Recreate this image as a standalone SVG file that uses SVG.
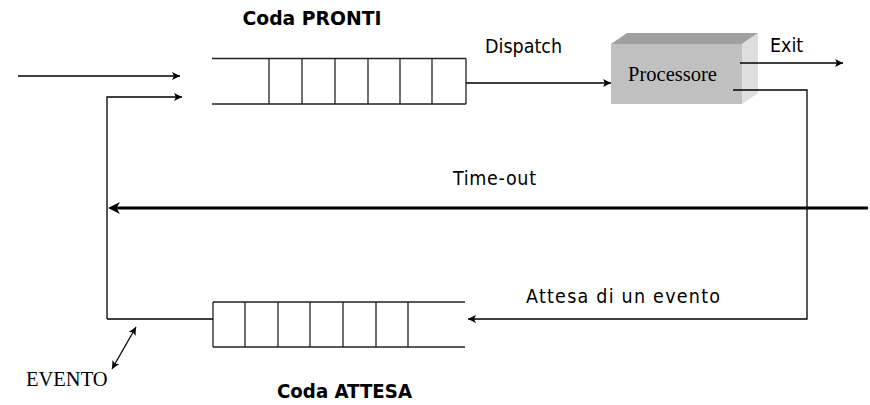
<svg xmlns="http://www.w3.org/2000/svg" width="870" height="405" viewBox="0 0 870 405">
  <defs>
    <marker id="arrow" viewBox="0 0 10 10" refX="10" refY="5" markerWidth="8" markerHeight="8" markerUnits="userSpaceOnUse" orient="auto-start-reverse">
      <path d="M0,0 L10,5 L0,10 L2.5,5 z" fill="#000"/>
    </marker>
    <marker id="arrowBig" viewBox="0 0 10 10" refX="6.7" refY="5" markerWidth="12" markerHeight="12" markerUnits="userSpaceOnUse" orient="auto-start-reverse">
      <path d="M0,0 L10,5 L0,10 L3,5 z" fill="#000"/>
    </marker>
    <style>
      .ln { fill: none; stroke: #000; stroke-width: 1.3; }
      .q { fill: none; stroke: #222; stroke-width: 1.3; }
      .sans { font-family: "DejaVu Sans Condensed", "DejaVu Sans", sans-serif; font-size: 19.5px; fill: #000; }
      .bold { font-family: "DejaVu Sans Condensed", "DejaVu Sans", sans-serif; font-size: 19.5px; font-weight: bold; fill: #000; }
      .serif { font-family: "Liberation Serif", "Times New Roman", serif; font-size: 20.5px; fill: #000; }
    </style>
  </defs>

  <!-- ready queue -->
  <g id="coda-pronti">
    <path class="q" d="M212,58.5 H466 M212,104 H466 M269,58.5 V104 M302,58.5 V104 M335,58.5 V104 M368,58.5 V104 M400,58.5 V104 M432,58.5 V104 M466,58.5 V104"/>
    <text class="bold" x="312" y="25" text-anchor="middle" textLength="139" lengthAdjust="spacingAndGlyphs">Coda PRONTI</text>
  </g>

  <!-- waiting queue -->
  <g id="coda-attesa">
    <path class="q" d="M213,302 H465 M213,347 H465 M213,302 V347 M245,302 V347 M278,302 V347 M310,302 V347 M343,302 V347 M376,302 V347 M408,302 V347"/>
    <text class="bold" x="344.5" y="398" text-anchor="middle" textLength="135" lengthAdjust="spacingAndGlyphs">Coda ATTESA</text>
  </g>

  <!-- processor block -->
  <g id="processore">
    <polygon points="611,44 627,33 758,33 742,44" fill="#a0a0a0"/>
    <polygon points="742,44 758,33 758,93 742,104" fill="#dedede"/>
    <rect x="611" y="44" width="131" height="60" fill="#c0c0c0"/>
    <text class="serif" x="672.5" y="81" text-anchor="middle">Processore</text>
  </g>

  <!-- event label -->
  <g id="evento">
    <text class="serif" x="26" y="386">EVENTO</text>
  </g>

  <!-- connectors -->
  <g id="connectors">
    <line class="ln" x1="18" y1="76" x2="180" y2="76" marker-end="url(#arrow)"/>
    <path class="ln" d="M107,319 V97 H182" marker-end="url(#arrow)"/>
    <path class="ln" d="M107,319 H213"/>
    <line class="ln" x1="466" y1="83" x2="611" y2="83" marker-end="url(#arrow)"/>
    <line class="ln" x1="740" y1="63" x2="843" y2="63" marker-end="url(#arrow)"/>
    <path class="ln" d="M733,90 H807 V319 H468" marker-end="url(#arrow)"/>
    <line x1="868" y1="208" x2="112" y2="208" stroke="#000" stroke-width="3" marker-end="url(#arrowBig)"/>
    <line class="ln" x1="112" y1="369" x2="136" y2="327" marker-start="url(#arrow)" marker-end="url(#arrow)"/>
  </g>

  <!-- connector labels -->
  <g id="labels">
    <text class="sans" x="485" y="53">Dispatch</text>
    <text class="sans" x="770" y="52">Exit</text>
    <text class="sans" x="453" y="185" textLength="83" lengthAdjust="spacing">Time-out</text>
    <text class="sans" x="526" y="303" textLength="194" lengthAdjust="spacing">Attesa di un evento</text>
  </g>
</svg>
